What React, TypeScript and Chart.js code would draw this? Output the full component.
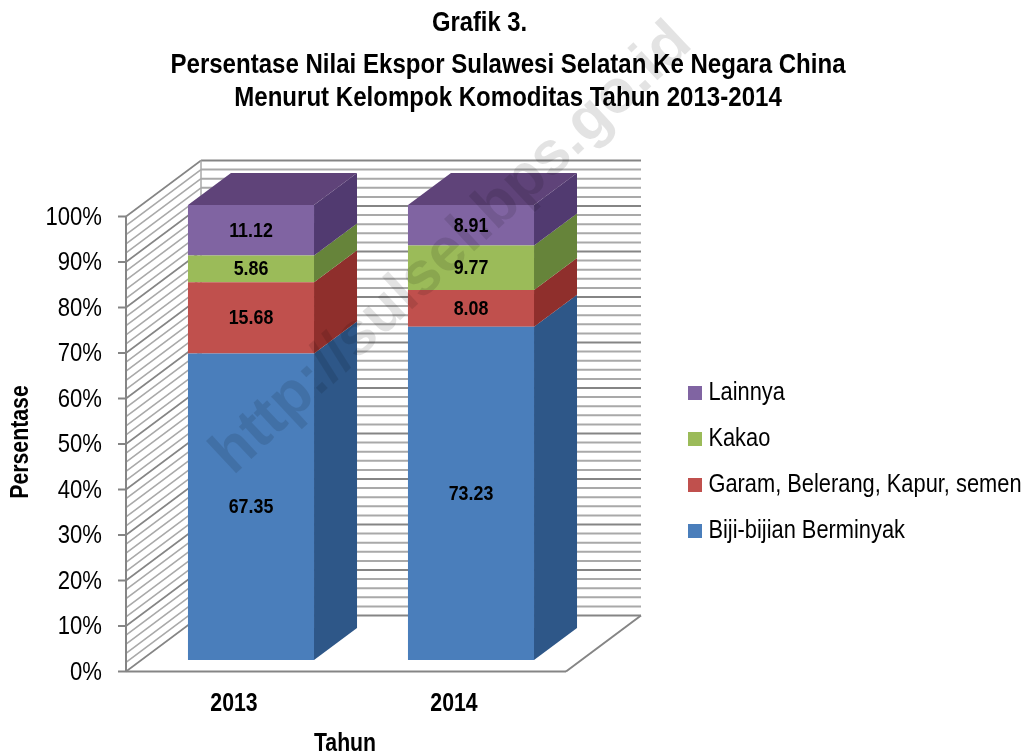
import React, { useEffect, useRef } from "react";
import { Chart, registerables } from "chart.js";

Chart.register(...registerables);

const categories = ["2013", "2014"];
const bijiBijian = [67.35, 73.23];
const garam = [15.68, 8.08];
const kakao = [5.86, 9.77];
const lainnya = [11.12, 8.91];
const seriesNames = ["Biji-bijian Berminyak", "Garam, Belerang, Kapur, semen", "Kakao", "Lainnya"];
const frontColors = ["#4a7ebb", "#c0504d", "#9bbb59", "#8064a2"];
const sideColors = ["#2e5788", "#8f2f2c", "#66843a", "#513a70"];
const topColor = "#5f4379";
const titleLine = "Grafik 3.";
const subtitleLines = ["Persentase Nilai Ekspor Sulawesi Selatan Ke Negara China", "Menurut Kelompok Komoditas Tahun 2013-2014"];
const yTitle = "Persentase";
const xTitle = "Tahun";
const watermark = "http://sulsel.bps.go.id";

const FONT = '"Liberation Sans", Arial, sans-serif';
const NARROW = 0.85; // horizontal squeeze of the text, the reference uses a condensed face

// 3D projection: the bars stand inside the box, the walls sit around them
const WALL_DX = -15, WALL_DY = 11.5;
const BOX_DX = 75, BOX_DY = -56;
const BAR_DX = 43, BAR_DY = -32;

function swatch(color: string) {
  const c = document.createElement("canvas");
  c.width = 14;
  c.height = 14;
  const g = c.getContext("2d")!;
  g.fillStyle = color;
  g.fillRect(0, 0, 14, 14);
  return c;
}

const layoutPlugin = {
  id: "layoutTweak",
  beforeLayout(chart: any) {
    const lg = chart.legend;
    if (lg && !lg.__patched) {
      const f = lg.fit;
      lg.fit = function () {
        f.call(this);
        this.width = 450;
      };
      lg.__patched = true;
    }
  },
  afterLayout(chart: any) {
    const lg = chart.legend;
    lg.left = 674.75;
    lg.right = 1031;
    lg.top = 103;
    lg.bottom = 820;
    for (const b of chart.boxes) {
      if (b === chart.titleBlock) {
        b.left = -72;
        b.right = 1031;
      } else if (b.options && Array.isArray(b.options.text)) {
        b.left = -15;
        b.right = 1031;
      }
    }
  },
};

const wallsPlugin = {
  id: "walls3d",
  beforeDatasetsDraw(chart: any) {
    const ctx = chart.ctx;
    const y = chart.scales.y;
    const x = chart.scales.x;
    const fl = x.left + WALL_DX;
    const fr = x.right + WALL_DX;
    const py = (v: number) => y.getPixelForValue(v) + WALL_DY;
    const line = (a: number, b: number, c: number, d: number, col: string, w: number) => {
      ctx.strokeStyle = col;
      ctx.lineWidth = w;
      ctx.beginPath();
      ctx.moveTo(a, b);
      ctx.lineTo(c, d);
      ctx.stroke();
    };
    ctx.save();
    for (let i = 100; i >= 0; i -= 2) {
      const major = i % 10 === 0;
      const col = major ? "#858585" : "#a9a9a9";
      const yy = py(i);
      line(fl + BOX_DX, yy + BOX_DY, fr + BOX_DX, yy + BOX_DY, col, 2);
      line(fl, yy, fl + BOX_DX, yy + BOX_DY, col, 1.6);
      if (major) line(fl - 8, yy, fl, yy, "#858585", 2);
    }
    line(fl, py(0), fl, py(100), "#858585", 2);
    line(fl + BOX_DX, py(0) + BOX_DY, fl + BOX_DX, py(100) + BOX_DY, "#a9a9a9", 1.5);
    line(fl, py(0), fr, py(0), "#858585", 2);
    line(fr, py(0), fr + BOX_DX, py(0) + BOX_DY, "#858585", 2);
    chart.data.datasets.forEach((_: any, di: number) => {
      const meta = chart.getDatasetMeta(di);
      meta.data.forEach((el: any) => {
        const r = el.x + el.width / 2;
        ctx.fillStyle = sideColors[di];
        ctx.beginPath();
        ctx.moveTo(r, el.base);
        ctx.lineTo(r + BAR_DX, el.base + BAR_DY);
        ctx.lineTo(r + BAR_DX, el.y + BAR_DY);
        ctx.lineTo(r, el.y);
        ctx.closePath();
        ctx.fill();
        if (di === chart.data.datasets.length - 1) {
          const l = el.x - el.width / 2;
          ctx.fillStyle = topColor;
          ctx.beginPath();
          ctx.moveTo(l, el.y);
          ctx.lineTo(l + BAR_DX, el.y + BAR_DY);
          ctx.lineTo(r + BAR_DX, el.y + BAR_DY);
          ctx.lineTo(r, el.y);
          ctx.closePath();
          ctx.fill();
        }
      });
    });
    ctx.restore();
  },
};

const labelsPlugin = {
  id: "valueLabels",
  afterDatasetsDraw(chart: any) {
    const ctx = chart.ctx;
    ctx.save();
    ctx.fillStyle = "#000";
    ctx.font = `bold 21px ${FONT}`;
    ctx.textAlign = "center";
    ctx.textBaseline = "middle";
    chart.data.datasets.forEach((ds: any, di: number) => {
      chart.getDatasetMeta(di).data.forEach((el: any, i: number) => {
        ctx.fillText(ds.data[i].toFixed(2), el.x, (el.y + el.base) / 2 + 0.5);
      });
    });
    ctx.restore();
  },
  afterDraw(chart: any) {
    const ctx = chart.ctx;
    ctx.save();
    ctx.fillStyle = "#000";
    ctx.textBaseline = "middle";
    ctx.textAlign = "center";
    ctx.font = `bold 25px ${FONT}`;
    ctx.fillText(xTitle, 345, 744);
    ctx.save();
    ctx.translate(21, 442);
    ctx.rotate(-Math.PI / 2);
    ctx.fillText(yTitle, 0, 0);
    ctx.restore();
    ctx.translate(452, 249);
    ctx.rotate((-43 * Math.PI) / 180);
    ctx.scale(1 / NARROW, 1);
    ctx.font = "bold 61px 'Liberation Sans', Arial, sans-serif";
    ctx.fillStyle = "rgba(0,0,0,0.11)";
    ctx.fillText(watermark, 0, 0);
    ctx.restore();
  },
};

export default function App() {
  const ref = useRef<HTMLCanvasElement>(null);
  useEffect(() => {
    document.body.style.margin = "0";
    const values = [bijiBijian, garam, kakao, lainnya];
    const swatches = frontColors.map(swatch);
    const canvas = ref.current!;
    const ctx: any = canvas.getContext("2d")!;
    const proto = CanvasRenderingContext2D.prototype.fillText;
    ctx.fillText = function (t: string, px: number, py: number) {
      this.save();
      this.translate(px, py);
      this.scale(NARROW, 1);
      proto.call(this, t, 0, 0);
      this.restore();
    };
    const chart = new Chart(canvas, {
      type: "bar",
      data: {
        labels: categories,
        datasets: seriesNames.map((n, i) => ({
          label: n,
          data: values[i],
          backgroundColor: frontColors[i],
          barPercentage: 1,
          categoryPercentage: 0.573,
        })),
      },
      plugins: [layoutPlugin, wallsPlugin, labelsPlugin],
      options: {
        responsive: false,
        animation: false,
        layout: { padding: 0 },
        scales: {
          x: {
            stacked: true,
            grid: { display: false, drawTicks: false },
            border: { display: false },
            ticks: { color: "#000", font: { family: FONT, size: 25, weight: "bold" }, padding: 29, labelOffset: -17, maxRotation: 0 },
            afterFit: (s: any) => { s.height = 93; },
          },
          y: {
            stacked: true,
            min: 0,
            max: 100,
            grid: { display: false, drawTicks: false },
            border: { display: false },
            ticks: { color: "#000", font: { family: FONT, size: 26 }, padding: 39, labelOffset: 12.5, stepSize: 10, callback: (v: any) => `${v}%` },
            afterFit: (s: any) => { s.width = 141; },
          },
        },
        plugins: {
          title: {
            display: true,
            text: titleLine,
            color: "#000",
            font: { family: FONT, size: 28, weight: "bold", lineHeight: "30px" },
            padding: { top: 8, bottom: 0 },
          },
          subtitle: {
            display: true,
            text: subtitleLines,
            color: "#000",
            font: { family: FONT, size: 28.3, weight: "bold", lineHeight: "33px" },
            padding: { top: 10.5, bottom: 90.5 },
          },
          legend: {
            position: "right",
            reverse: true,
            labels: {
              color: "#000",
              font: { family: FONT, size: 25.7, lineHeight: 1 },
              padding: 20.3,
              boxHeight: 14,
              usePointStyle: true,
              pointStyleWidth: 0.5,
              generateLabels: (c: any) =>
                Chart.defaults.plugins.legend.labels.generateLabels(c).map((it: any) => ({
                  ...it,
                  pointStyle: swatches[it.datasetIndex],
                })),
            },
          },
          tooltip: { enabled: false },
        },
      },
    } as any);
    return () => {
      chart.destroy();
      delete ctx.fillText;
    };
  }, []);
  return (
    <div style={{ position: "absolute", left: 0, top: 0, width: 1031, height: 753, background: "#fff" }}>
      <canvas ref={ref} width={1031} height={753} style={{ display: "block", filter: "blur(0.4px)" }} />
    </div>
  );
}
